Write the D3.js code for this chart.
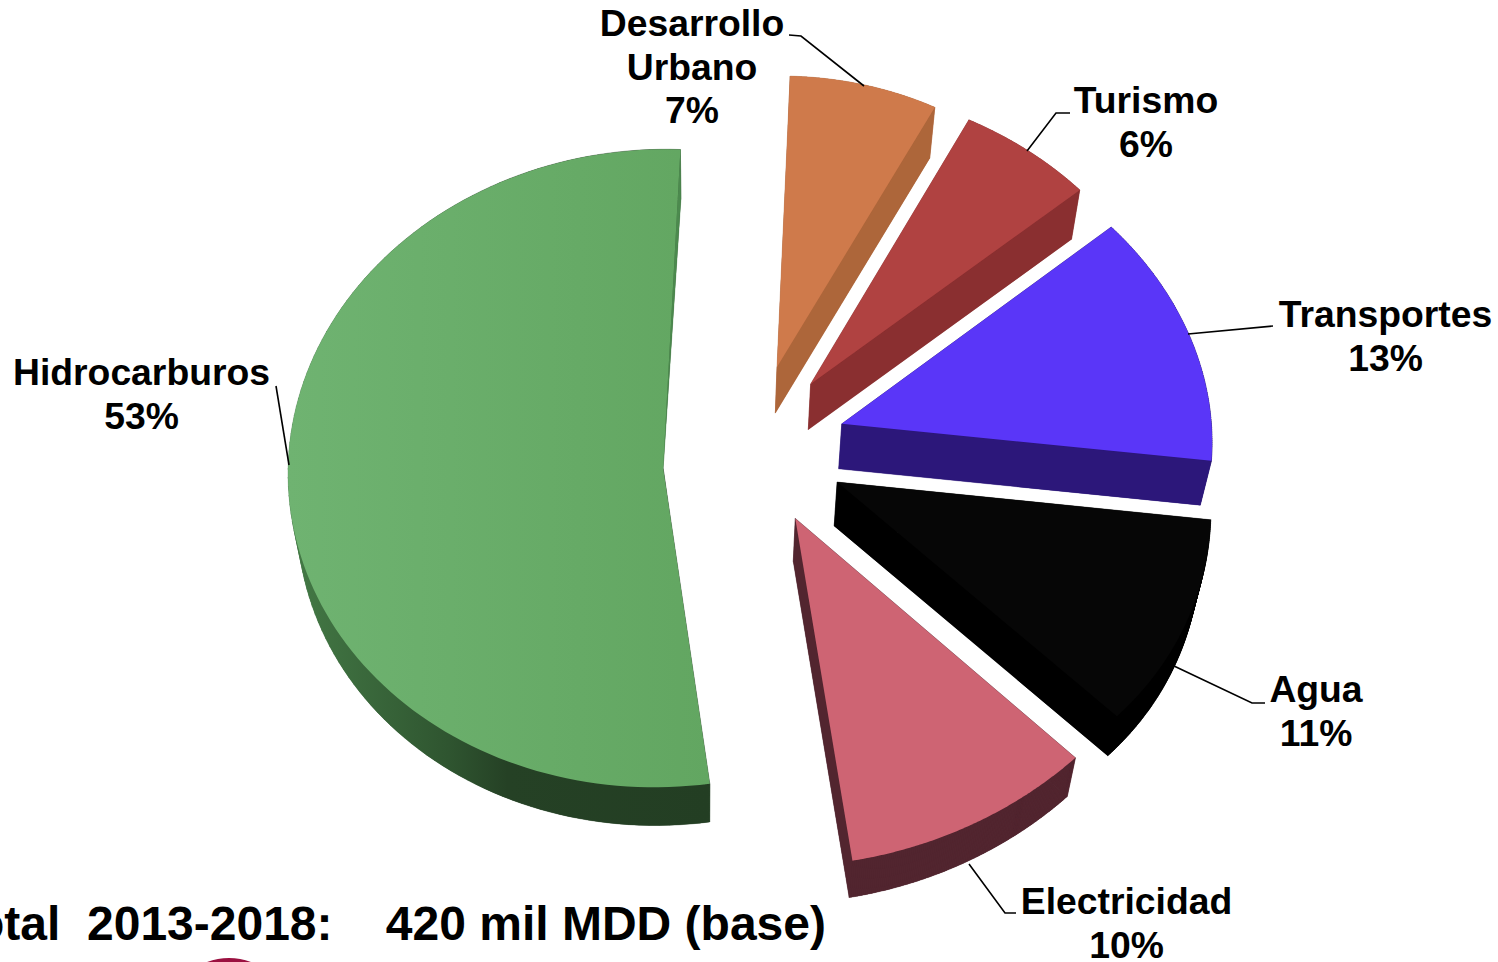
<!DOCTYPE html>
<html><head><meta charset="utf-8">
<script src="https://cdn.jsdelivr.net/npm/d3@7"></script>
<style>html,body{margin:0;padding:0;background:#fff;overflow:hidden}svg{display:block}
text{font-family:"Liberation Sans",Arial,sans-serif;font-weight:700;fill:#000}</style>
</head><body><svg id="c" width="1498" height="962"></svg>
<script>
// Data
const categories = ["Desarrollo Urbano","Turismo","Transportes","Agua","Electricidad","Hidrocarburos"];
const values = [7,6,13,11,10,53];
const labelLines = [["Desarrollo","Urbano","7%"],["Turismo","6%"],["Transportes","13%"],["Agua","11%"],["Electricidad","10%"],["Hidrocarburos","53%"]];
const footer = "Total  2013-2018:    420 mil MDD (base)";

// Styles and layout
const topColors  = ["#cf7a4b","#b04241","#5a36f8","#060606","#ce6473","url(#gTop)"];
const sideColors = ["#ad663a","#8a2f30","#2c177a","#000000","#52252f","url(#gSide)"];
const rayColors  = ["#ad663a","#8a2f30","#2c177a","#000000","#52252f","#4c8a4e"];
const center = [755,447], explode = 90, squash = 0.85;
const nudge  = [[-1,-6],[0,-3],[1,0],[1,2],[0,3],[-5,17]];
const apexShift = [[0,0],[0,0],[0,0],[0,0],[0,0],[3,0]];
const apexExtruded = [true,true,true,true,true,false];
// per-slice perspective of the top face: rx, ry, shearX, shearY
const faces  = [[343,291,0,-3],[367,299,-12,3],[370,307,-15,6],[373,324,-25,5],[402,348,3,-12],[372,319,6,0]];
const leaders = [
 [[789,35],[801,36],[864,86]],[[1070,113],[1056,113],[1027,151]],[[1273,326],[1188,334]],
 [[1265,703],[1252,703],[1174,666]],[[1016,913],[1005,913],[969,864]],[[276,386],[289,465]]];
const labelPos = [[692,36],[1146,113],[1385.5,327],[1316,702],[1126.5,914],[141.5,385]];
const lineGap = 43.5;

const svg = d3.select("#c");
const defs = svg.append("defs");
function grad(id,stops){
  const g = defs.append("linearGradient").attr("id",id).attr("gradientUnits","userSpaceOnUse")
    .attr("x1",288).attr("x2",710).attr("y1",0).attr("y2",0);
  stops.forEach(s=>g.append("stop").attr("offset",s[0]).attr("stop-color",s[1]));
}
grad("gTop",[[0,"#6fb371"],[1,"#62a661"]]);
grad("gSide",[[0,"#447a46"],[0.38,"#2f5530"],[0.52,"#254125"],[1,"#233e23"]]);

const startA = 2.2*Math.PI/180;
const pie = d3.pie().sort(null).startAngle(startA).endAngle(startA+2*Math.PI);
const arcs = pie(values);
const line = d3.line();

// extrusion of a top-face point towards the base of the 3D pie
const extrude = ([x,y]) => [x+(703-x)*0.022, y+51-(y-100)*0.0186];

arcs.forEach((a,i)=>{
  const mid=(a.startAngle+a.endAngle)/2;
  const ax=center[0]+explode*Math.sin(mid)+nudge[i][0];
  const ay=center[1]-explode*squash*Math.cos(mid)+nudge[i][1];
  const [rx,ry,kx,ky]=faces[i];
  const t=d3.scaleLinear().domain([0,1]).range([a.startAngle,a.endAngle]);
  const pts=[[ax+apexShift[i][0],ay+apexShift[i][1]]].concat(d3.range(0,1.0001,1/120).map(u=>{
    const s=Math.sin(t(u)),c=Math.cos(t(u));
    return [ax+rx*s+kx*c, ay-ry*c+ky*s];
  }));
  const low=pts.map(extrude);
  if(!apexExtruded[i]) low[0]=pts[0];
  const g=svg.append("g").attr("class","slice").attr("data-name",categories[i]);
  // base and side walls; the closing ray wall (last quad) has its own shade
  g.append("path").attr("d",line(low)+"Z").attr("fill",sideColors[i]);
  pts.forEach((p,j)=>{
    const n=(j+1)%pts.length;
    const col=j===pts.length-1?rayColors[i]:sideColors[i];
    g.append("path").attr("d",line([p,pts[n],low[n],low[j]])+"Z")
      .attr("fill",col).attr("stroke",col).attr("stroke-width",0.4);
  });
  g.append("path").attr("d",line(pts)+"Z").attr("fill",topColors[i]);
});

// leader lines
svg.append("g").selectAll("path").data(leaders).join("path")
  .attr("d",d=>line(d)).attr("fill","none").attr("stroke","#000").attr("stroke-width",1.6);

// labels
labelLines.forEach((ls,i)=>{
  const tx=svg.append("text").attr("text-anchor","middle").attr("font-size",37.3);
  ls.forEach((s,j)=>tx.append("tspan").attr("x",labelPos[i][0]).attr("y",labelPos[i][1]+j*lineGap).text(s));
});

// footer
svg.append("text").attr("x",826).attr("y",940).attr("text-anchor","end").attr("font-size",48)
  .attr("xml:space","preserve").style("white-space","pre").text(footer);
svg.append("circle").attr("cx",229).attr("cy",1020).attr("r",62).attr("fill","#9b1040");
</script></body></html>
